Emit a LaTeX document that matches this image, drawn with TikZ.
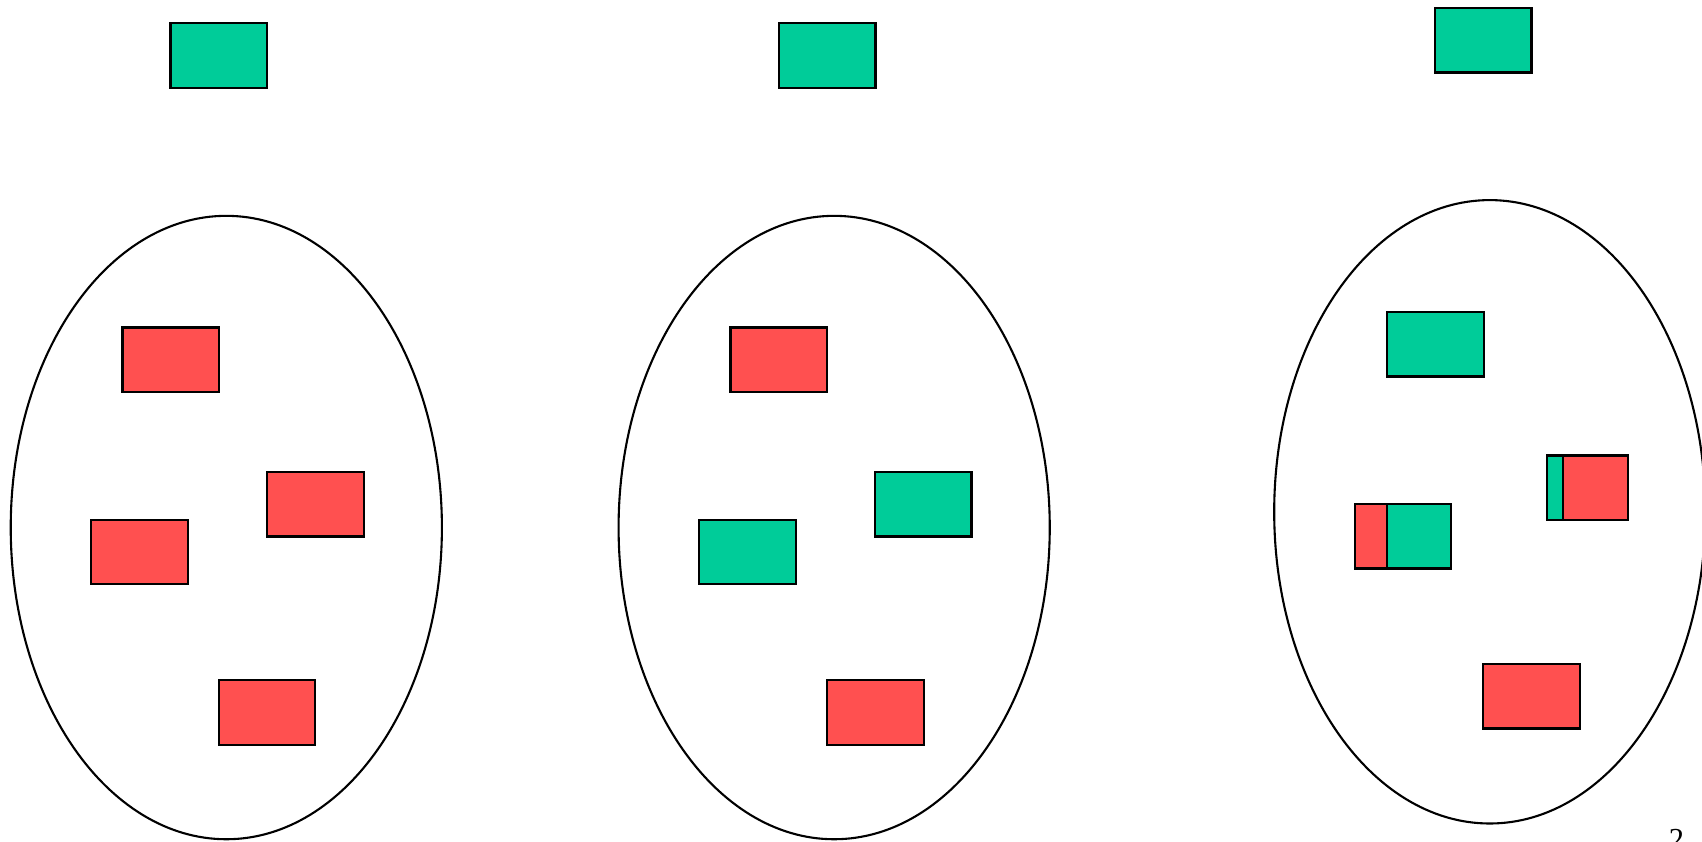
\documentclass[tikz,border=0pt]{standalone}
\usepackage{fontspec}
\setmainfont{Liberation Serif}
\usetikzlibrary{shapes.geometric}
\definecolor{gbox}{RGB}{0,204,153}
\definecolor{rbox}{RGB}{255,80,80}
\begin{document}
\begin{tikzpicture}[x=0.01cm,y=-0.01cm,
  box/.style={draw=black,line width=0.6pt,rectangle,inner sep=0pt,minimum width=0.89cm,minimum height=0.595cm},
  gb/.style={box,fill=gbox},
  rb/.style={box,fill=rbox},
  oval/.style={draw=black,line width=0.55pt,ellipse,inner sep=0pt,minimum width=3.97cm,minimum height=5.74cm}]
\useasboundingbox (0,0) rectangle (1568,775);
\clip (0,0) rectangle (1568,775);
% panel 1
\node[gb] (t1) at (201.5,51) {};
\node[oval] (e1) at (208.5,486) {};
\node[rb] (a1) at (157.5,331.5) {};
\node[rb] (b1) at (290.5,464.5) {};
\node[rb] (c1) at (128.5,508.5) {};
\node[rb] (d1) at (246,656.5) {};
% panel 2
\node[gb] (t2) at (762,51) {};
\node[oval] (e2) at (768.5,486) {};
\node[rb] (a2) at (717.5,331.5) {};
\node[gb] (b2) at (850.5,464.5) {};
\node[gb] (c2) at (688.5,508.5) {};
\node[rb] (d2) at (806.5,656.5) {};
% panel 3
\node[gb] (t3) at (1366.5,37) {};
\node[oval] (e3) at (1372.5,471.5) {};
\node[gb] (a3) at (1322.5,317) {};
\node[rb,minimum width=0.30cm] (c3r) at (1263,494) {};
\node[gb,minimum width=0.59cm] (c3g) at (1307.5,494) {};
\node[gb,minimum width=0.145cm] (b3g) at (1432.75,449.5) {};
\node[rb,minimum width=0.595cm] (b3r) at (1469.75,449.5) {};
\node[rb] (d3) at (1411,641.5) {};
% page number
\node[anchor=north,inner sep=0pt,font=\fontsize{8}{9}\selectfont] (pn) at (1544.5,763.7) {2};
\end{tikzpicture}
\end{document}
